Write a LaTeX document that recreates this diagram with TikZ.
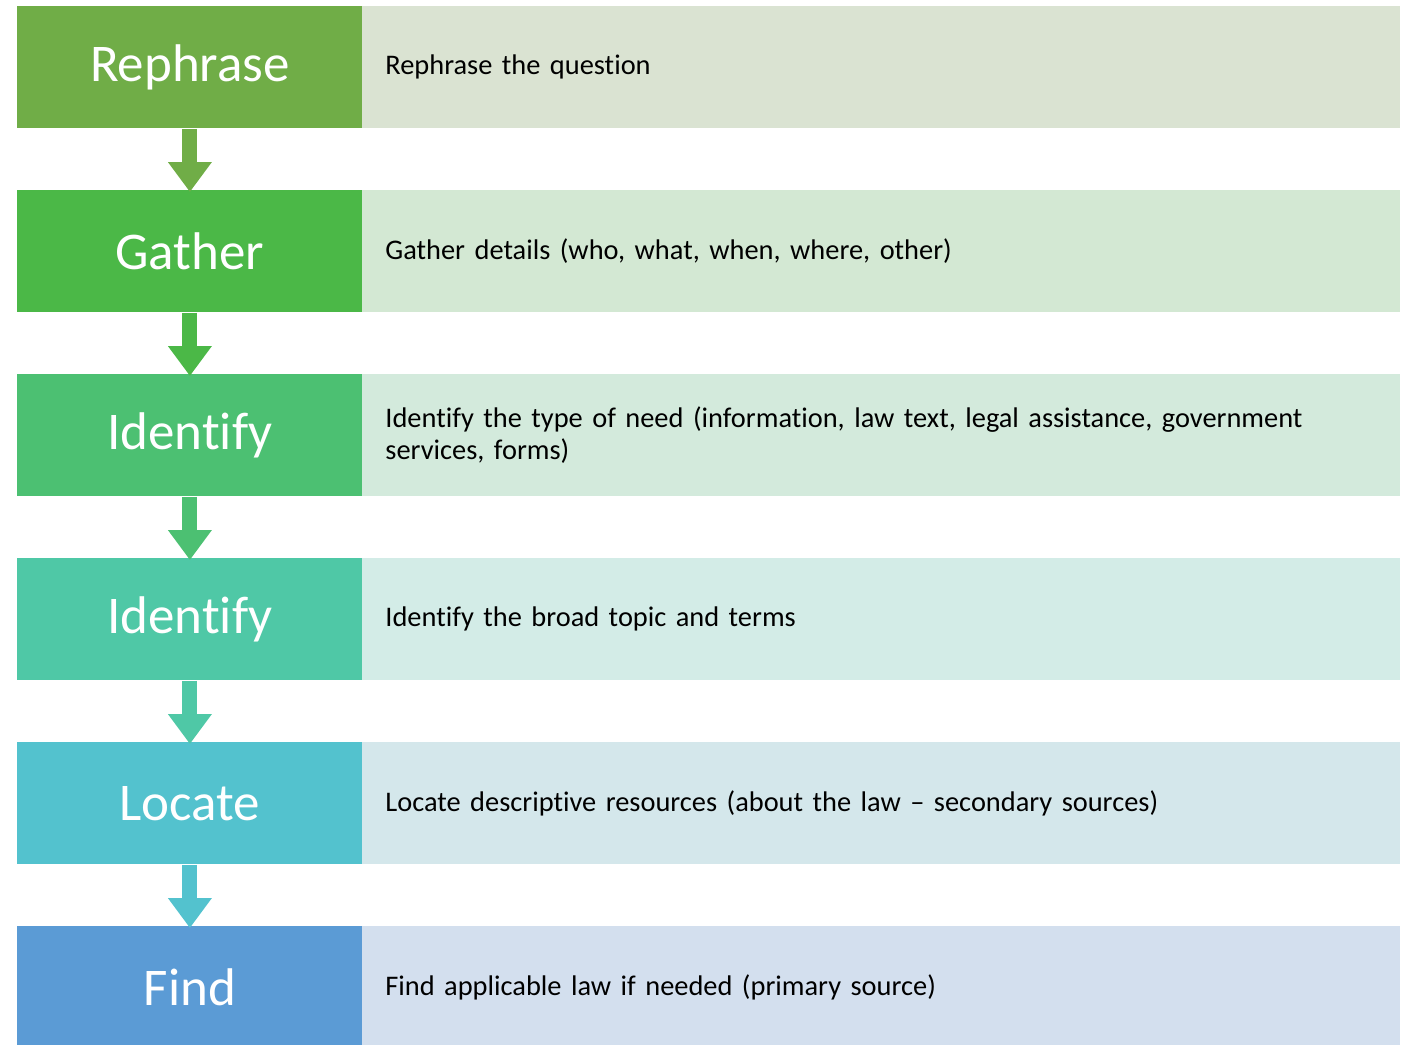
\documentclass[tikz,border=0pt]{standalone}
\usepackage{fontspec}
\setmainfont[Ligatures={NoCommon}]{Carlito}
\usetikzlibrary{arrows.meta}
\definecolor{c1}{HTML}{70AD47}
\definecolor{c2}{HTML}{4BB847}
\definecolor{c3}{HTML}{4CC072}
\definecolor{c4}{HTML}{4FC8A6}
\definecolor{c5}{HTML}{53C2CE}
\definecolor{c6}{HTML}{5B9BD5}
\definecolor{l1}{HTML}{DAE3D2}
\definecolor{l2}{HTML}{D3E8D3}
\definecolor{l3}{HTML}{D3EADC}
\definecolor{l4}{HTML}{D3ECE7}
\definecolor{l5}{HTML}{D4E7EB}
\definecolor{l6}{HTML}{D3DFEE}
\tikzset{
  lbox/.style={fill=#1, draw=none, minimum width=172.5pt, minimum height=61pt, inner sep=0pt, anchor=north west, text=white, font=\fontsize{26.5}{30}\selectfont},
  rbox/.style={fill=#1, draw=none, minimum height=61pt, text width=496pt, inner xsep=11.5pt, inner ysep=0pt, align=left, anchor=north west, text=black, font=\fontsize{14.2}{16}\selectfont},
  flowarrow/.style={draw=#1, line width=7.5pt, line cap=butt, -{Triangle[width=21pt,length=15pt]}, shorten >=-1pt}
}
\begin{document}
\begin{tikzpicture}[x=0.5pt,y=-0.5pt]
\useasboundingbox (0,0) rectangle (1412,1044);
\clip (0,0) rectangle (1412,1044);
\node[lbox=c1] (a1) at (17,6) {Rephrase};
\node[rbox=l1] (b1) at (362,6) {Rephrase the question};
\node[lbox=c2] (a2) at (17,190) {Gather};
\node[rbox=l2] (b2) at (362,190) {Gather details (who, what, when, where, other)};
\node[lbox=c3] (a3) at (17,374) {Identify};
\node[rbox=l3] (b3) at (362,374) {Identify the type of need (information, law text, legal assistance, government\\ services, forms)};
\node[lbox=c4] (a4) at (17,558) {Identify};
\node[rbox=l4] (b4) at (362,558) {Identify the broad topic and terms};
\node[lbox=c5] (a5) at (17,742) {Locate};
\node[rbox=l5] (b5) at (362,742) {Locate descriptive resources (about the law -- secondary sources)};
\node[lbox=c6] (a6) at (17,926) {Find};
\node[rbox=l6] (b6) at (362,926) {Find applicable law if needed (primary source)};
\draw[flowarrow=c1] (a1.south) -- (a2.north);
\draw[flowarrow=c2] (a2.south) -- (a3.north);
\draw[flowarrow=c3] (a3.south) -- (a4.north);
\draw[flowarrow=c4] (a4.south) -- (a5.north);
\draw[flowarrow=c5] (a5.south) -- (a6.north);
\end{tikzpicture}
\end{document}
